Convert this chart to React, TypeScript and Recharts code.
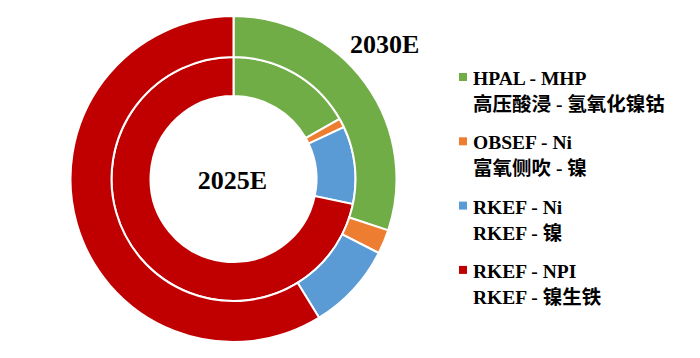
import React from 'react';
import { PieChart, Pie, Cell, Customized } from 'recharts';

const categories = ['HPAL - MHP', 'OBSEF - Ni', 'RKEF - Ni', 'RKEF - NPI'];
const cnLabels = ['高压酸浸 - 氢氧化镍钴', '富氧侧吹 - 镍', 'RKEF - 镍', 'RKEF - 镍生铁'];
const share2025 = [16.8, 1.2, 10.3, 71.7];
const share2030 = [30.1, 2.4, 8.7, 58.8];
const colors = ['#70AD47', '#ED7D31', '#5B9BD5', '#C00000'];

const data2025 = categories.map((name, i) => ({ name, value: share2025[i] }));
const data2030 = categories.map((name, i) => ({ name, value: share2030[i] }));

const FONT = "'Liberation Serif', 'Times New Roman', 'Noto Sans CJK SC', serif";

const Overlay = () => (
  <g>
    <text x={342} y={45} fontFamily={FONT} fontWeight="bold" fontSize={26} fill="#000">2030E</text>
    <text x={224.5} y={181} textAnchor="middle" fontFamily={FONT} fontWeight="bold" fontSize={26} fill="#000">2025E</text>
    {categories.map((c, i) => {
      const y = 77 + i * 64.3;
      return (
        <g key={c}>
          <rect x={451} y={y - 12} width={8} height={8} fill={colors[i]} />
          <text x={465} y={y} fontFamily={FONT} fontWeight="bold" fontSize={19.5} fill="#000">{c}</text>
          <text x={465} y={y + 26} fontFamily={FONT} fontWeight="bold" fontSize={19.5} fill="#000">{cnLabels[i]}</text>
        </g>
      );
    })}
  </g>
);

export default function App() {
  return (
    <PieChart width={692} height={350} margin={{ top: 0, right: 0, bottom: 0, left: 0 }}>
      <Pie
        data={data2025}
        dataKey="value"
        nameKey="name"
        cx={225.5}
        cy={171}
        innerRadius={83}
        outerRadius={122}
        startAngle={90}
        endAngle={-270}
        stroke="#fff"
        strokeWidth={2}
        isAnimationActive={false}
      >
        {data2025.map((d, i) => (
          <Cell key={d.name} fill={colors[i]} />
        ))}
      </Pie>
      <Pie
        data={data2030}
        dataKey="value"
        nameKey="name"
        cx={225.5}
        cy={171}
        innerRadius={122}
        outerRadius={163}
        startAngle={90}
        endAngle={-270}
        stroke="#fff"
        strokeWidth={2}
        isAnimationActive={false}
      >
        {data2030.map((d, i) => (
          <Cell key={d.name} fill={colors[i]} />
        ))}
      </Pie>
      <Customized component={Overlay} />
    </PieChart>
  );
}
